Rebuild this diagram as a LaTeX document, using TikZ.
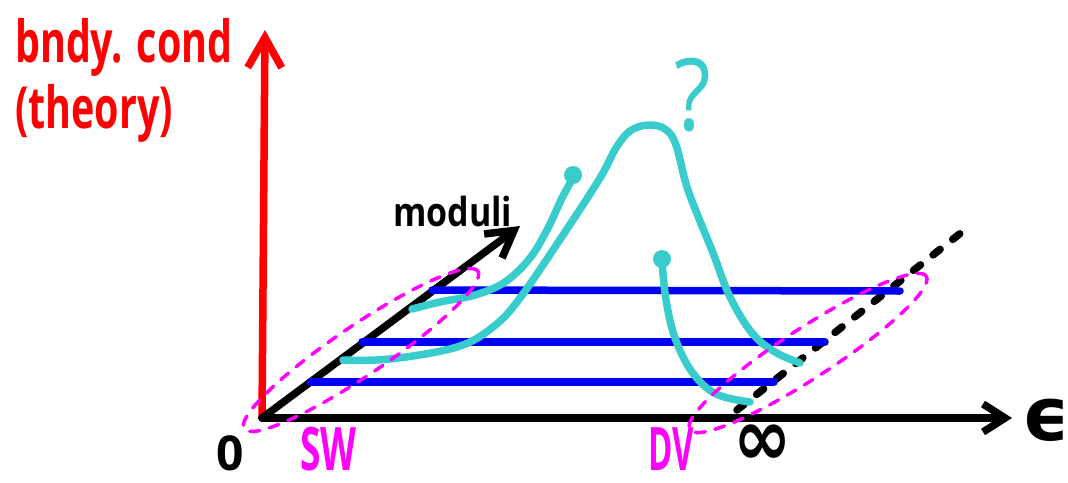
\documentclass[tikz,border=0pt]{standalone}
\usepackage{fontspec}
\setmainfont{Open Sans}
\newfontfamily\dejavu{DejaVu Sans}
\usetikzlibrary{arrows.meta,shapes.geometric}
\definecolor{axred}{RGB}{255,0,0}
\definecolor{lineblue}{RGB}{0,0,240}
\definecolor{cyanc}{RGB}{56,204,204}
\definecolor{mag}{RGB}{255,0,255}
\begin{document}
\begin{tikzpicture}[x=1pt,y=-1pt,line cap=round,line join=round,
  axisline/.style={line width=7.5pt},
  bluel/.style={lineblue,line width=7.5pt},
  curvel/.style={cyanc,line width=7.5pt},
  region/.style={draw=mag,ellipse,line width=3.5pt,dash pattern=on 10pt off 10pt,inner sep=0pt,minimum width=282pt,minimum height=50pt},
  dotc/.style={circle,fill=cyanc,inner sep=0pt,minimum size=18pt},
  lbl/.style={inner sep=0pt}]
\useasboundingbox (0,0) rectangle (1068,482);
% axes
\coordinate (O) at (262,418);
\coordinate (Ytip) at (265,30);
\coordinate (Xtip) at (1012,418);
\coordinate (Mtip) at (520,226);
\draw[axisline,axred,-{Straight Barb[length=30pt,width=34pt]}] (O) -- (Ytip);
\draw[axisline,black,-{Straight Barb[length=22pt,width=28pt]}] (O) -- (Xtip);
\draw[axisline,black,-{Straight Barb[length=26pt,width=30pt]}] (O) -- (Mtip);
% dashed continuation
\coordinate (D1) at (737,410);
\coordinate (D2) at (962,232);
\draw[black,line width=7.5pt,dash pattern=on 9pt off 16pt] (D1) -- (D2);
% blue lines
\coordinate (B1a) at (310,382); \coordinate (B1b) at (774,382);
\coordinate (B2a) at (362,342); \coordinate (B2b) at (825,342);
\coordinate (B3a) at (432,290); \coordinate (B3b) at (900,291);
\draw[bluel] (B1a) -- (B1b);
\draw[bluel] (B2a) -- (B2b);
\draw[bluel] (B3a) -- (B3b);
% cyan curves
\draw[curvel] plot[smooth,tension=0.6] coordinates {(412,309) (440,302) (475,295) (505,282) (530,258) (548,228) (562,198) (573,178)};
\draw[curvel] plot[smooth,tension=0.6] coordinates {(343,360) (390,359) (457,347) (493,327) (520,298) (565,232) (600,178) (616,148) (630,131) (648,125) (665,129) (676,145) (688,190) (713,253) (730,297) (752,333) (775,352) (800,363)};
\draw[curvel] plot[smooth,tension=0.6] coordinates {(662,262) (666,300) (675,338) (692,372) (716,394) (750,402)};
\node[dotc] (da) at (573,175) {};
\node[dotc] (dc) at (662,259) {};
% regions
\node[region,rotate=34] (sw) at (361,350) {};
\node[region,rotate=33] (dv) at (808,353) {};
% labels
\node[lbl,anchor=base west,text=axred,font=\fontsize{58}{60}\selectfont\bfseries,xscale=0.68] (t1) at (15,62) {bndy. cond};
\node[lbl,anchor=base west,text=axred,font=\fontsize{58}{60}\selectfont\bfseries,xscale=0.68] (t2) at (15,128) {(theory)};
\node[lbl,anchor=base west,font=\fontsize{40}{44}\selectfont\bfseries,xscale=0.85] (mod) at (393,226) {moduli};
\node[lbl,anchor=base west,text=mag,font=\fontsize{60}{64}\selectfont\bfseries,xscale=0.62] (swl) at (300,470) {SW};
\node[lbl,anchor=base west,text=mag,font=\fontsize{60}{64}\selectfont\bfseries,xscale=0.55] (dvl) at (648,470) {DV};
\node[lbl,font=\fontsize{48}{50}\selectfont\bfseries] (zero) at (230,453) {0};
\node[lbl,font=\dejavu\bfseries\fontsize{70}{70}\selectfont,yscale=1.15] (inf) at (763,445) {∞};
\node[lbl,font=\dejavu\bfseries\fontsize{74}{74}\selectfont] (eps) at (1046,420) {ϵ};
\node[lbl,text=cyanc,font=\fontsize{100}{100}\selectfont,xscale=0.85] (q) at (693,95) {?};
\end{tikzpicture}
\end{document}
